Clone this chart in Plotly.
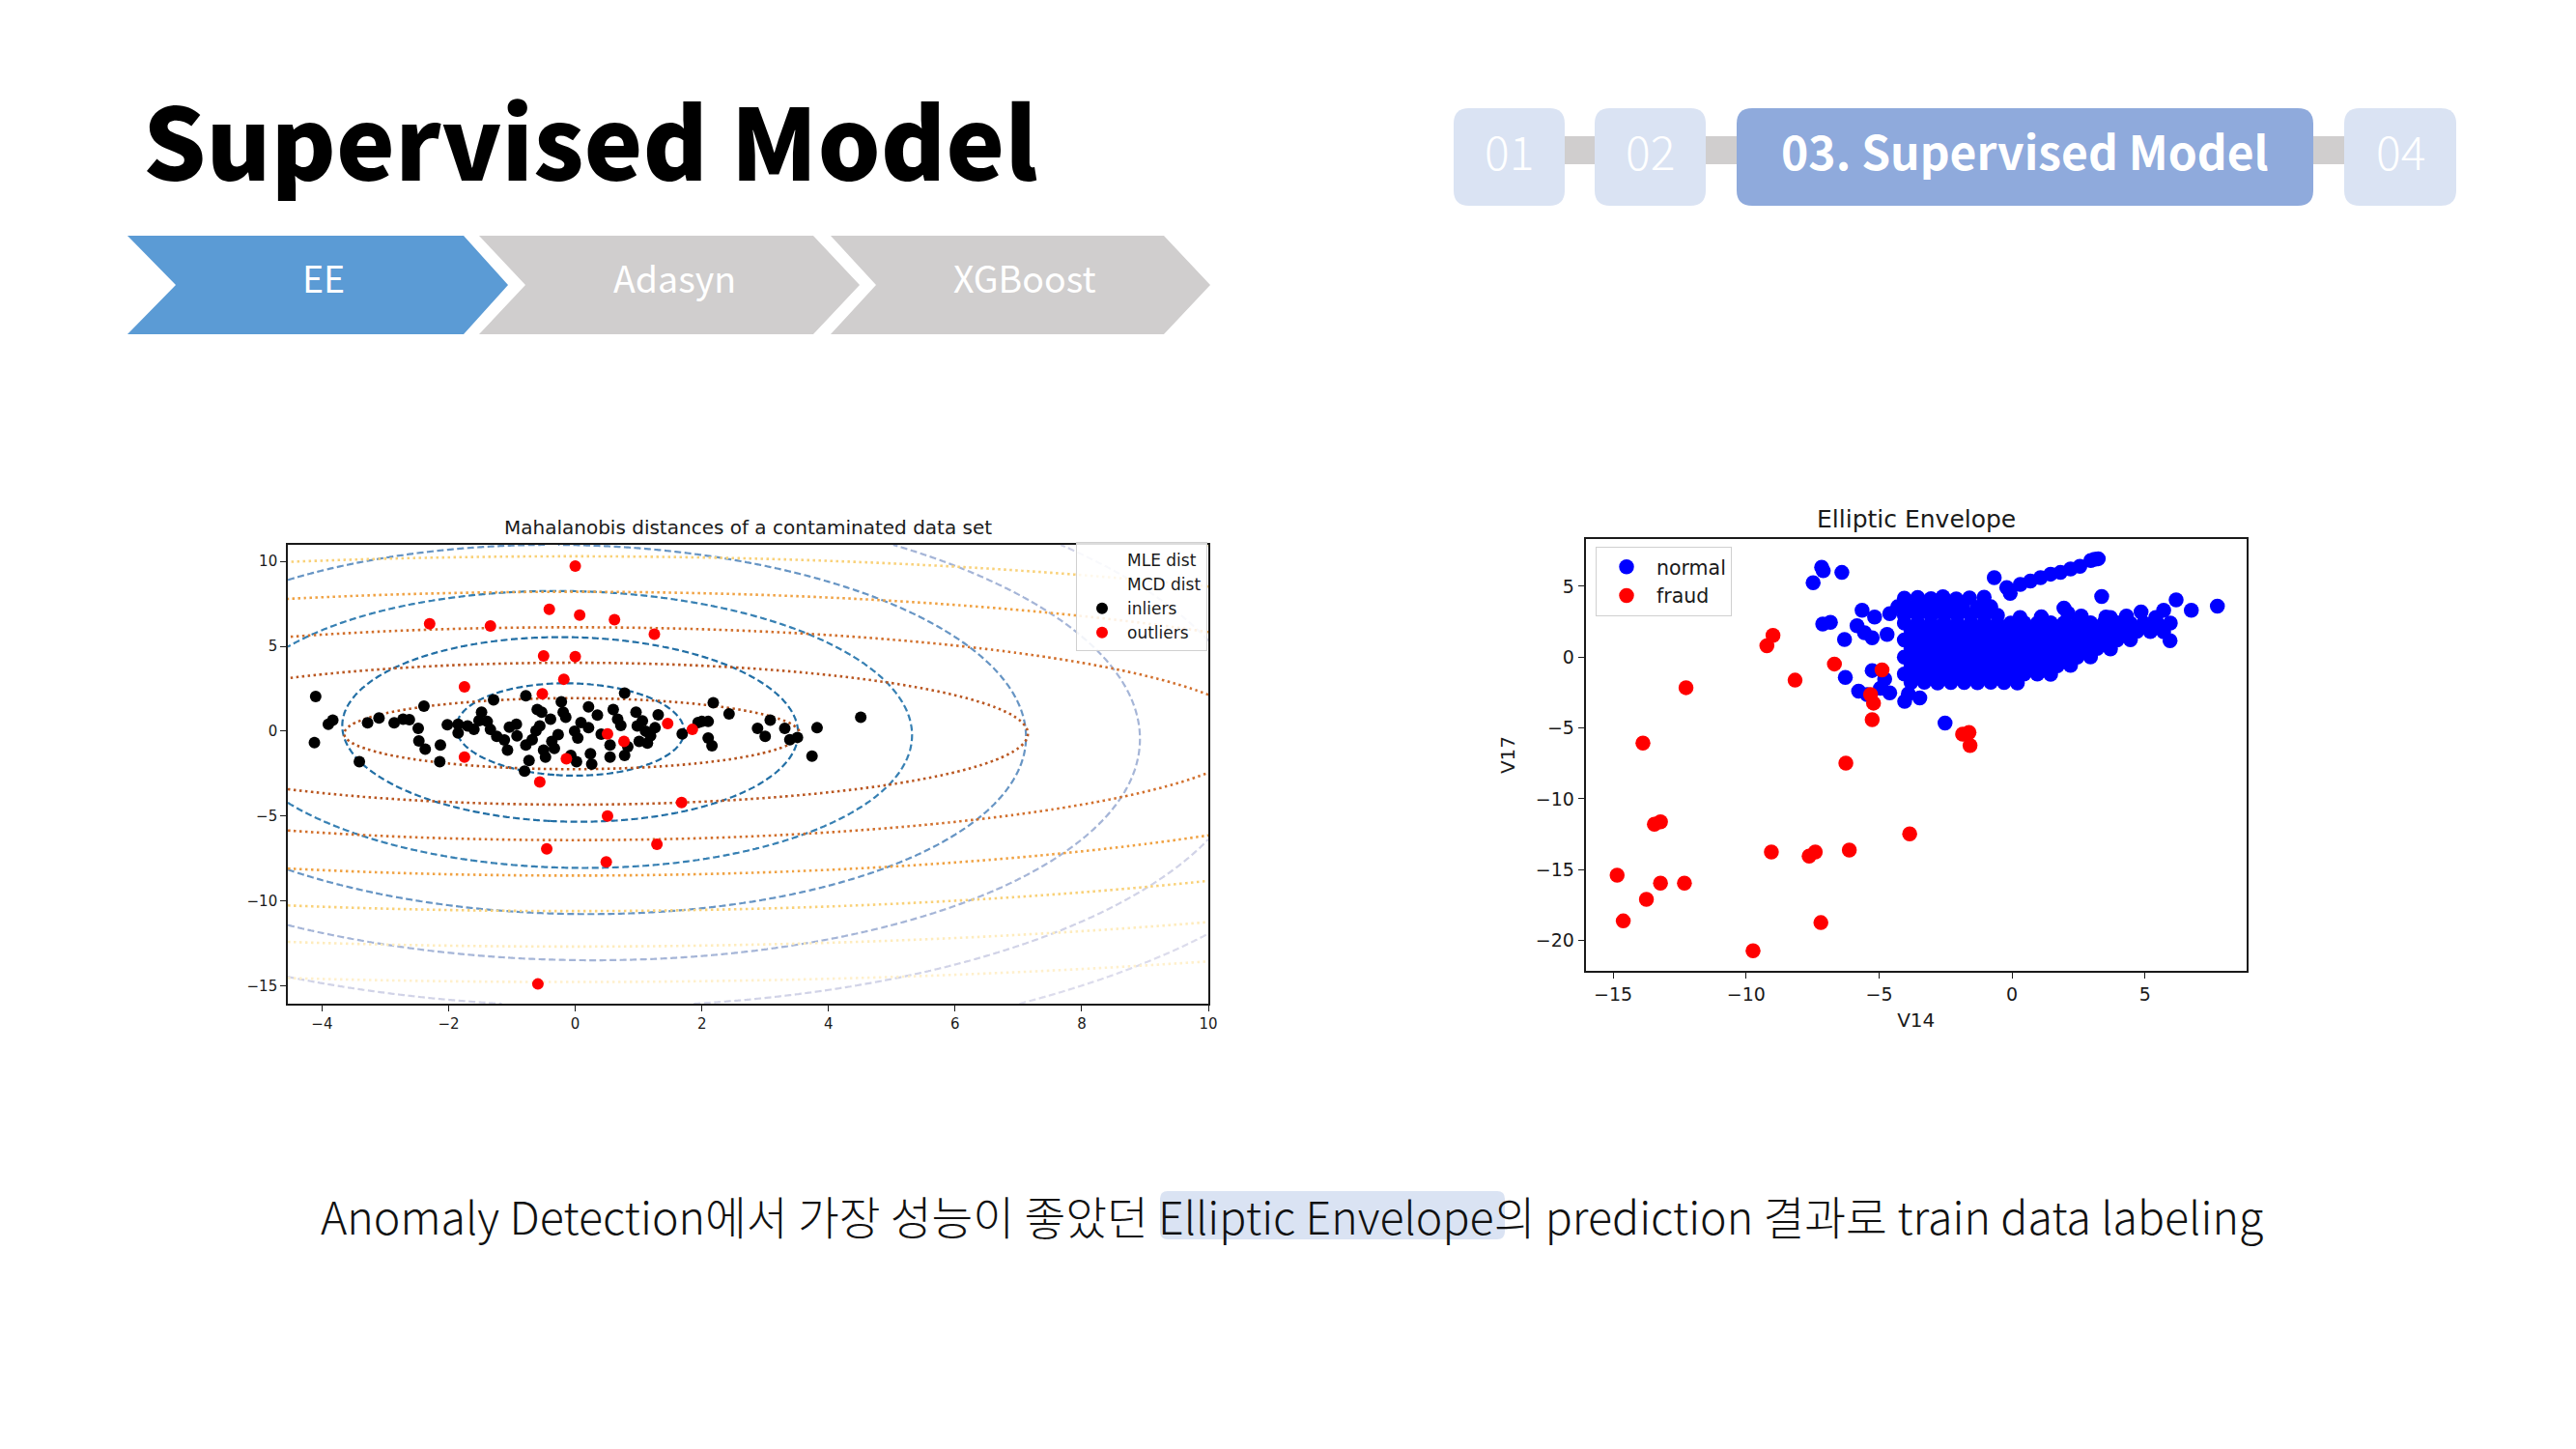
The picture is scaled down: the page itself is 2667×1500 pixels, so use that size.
import numpy as np
import plotly.graph_objects as go

W, H = 2667, 1500

# ---------------- Left chart: Mahalanobis distances ----------------
inlier_pts = [
    (-4.10, 2.04), (-4.12, -0.67), (-3.90, 0.41), (-3.83, 0.65), (-3.41, -1.80), (-3.28, 0.49),
    (-3.10, 0.78), (-2.86, 0.49), (-2.72, 0.71), (-2.62, 0.67), (-2.48, 0.16), (-2.47, -0.57),
    (-2.39, 1.47), (-2.37, -1.06), (-2.13, -0.82), (-2.14, -1.80), (-1.85, 0.41), (-1.85, -0.10),
    (-1.70, 0.31), (-1.60, 0.10), (-1.48, 1.12), (-1.39, 0.57), (-1.29, 1.84), (-1.34, 0.10),
    (-1.24, -0.31), (-1.07, -1.12), (-1.04, 0.24), (-0.93, 0.41), (-0.80, -2.35), (-0.78, 2.08),
    (-0.78, -0.82), (-0.73, -1.73), (-0.68, -0.51), (-0.60, 1.27), (-0.56, 0.31), (-0.53, 1.12),
    (-0.50, -1.12), (-0.47, -1.53), (-0.39, 0.71), (-0.37, -0.61), (-0.27, -0.20), (-0.22, 1.73),
    (-0.19, 1.12), (-0.15, 0.82), (-0.07, -1.43), (-0.01, 0.00), (0.02, -1.80), (0.04, -0.41),
    (0.09, 0.51), (0.21, 1.43), (0.21, 0.20), (0.24, -1.33), (0.26, -1.94), (0.55, -0.82),
    (0.55, -1.53), (0.60, 1.27), (0.67, 0.71), (0.78, 2.24), (0.78, -1.43), (0.83, -0.92),
    (0.96, 1.12), (0.98, 0.31), (1.01, -0.61), (1.06, 0.61), (1.11, 0.00), (1.14, -0.71),
    (1.26, 0.20), (1.31, 0.96), (1.69, -0.16), (1.94, 0.51), (2.00, 0.57), (2.10, 0.57),
    (2.18, 1.67), (2.10, -0.41), (2.16, -0.86), (2.43, 1.02), (2.88, 0.16), (3.00, -0.31),
    (3.08, 0.65), (3.31, 0.16), (3.39, -0.51), (3.51, -0.37), (3.74, -1.47), (3.82, 0.20),
    (4.51, 0.82), (-1.52, 0.62), (-0.92, -0.28), (-0.33, -1.02), (0.41, -0.18), (0.72, 0.33),
    (1.19, -0.28), (-1.12, -0.52), (-2.02, 0.38), (0.35, 0.95), (-0.62, 0.02),
]
outlier_pts = [
    (0.00, 9.73), (-0.41, 7.18), (0.07, 6.84), (0.62, 6.57), (-2.30, 6.33), (-1.34, 6.20),
    (1.25, 5.71), (-0.50, 4.43), (0.00, 4.39), (-0.18, 3.06), (-1.75, 2.61), (-0.52, 2.20),
    (1.46, 0.45), (1.85, 0.10), (0.51, -0.16), (0.77, -0.61), (-1.75, -1.53), (-0.14, -1.63),
    (-0.56, -3.00), (1.68, -4.20), (0.51, -5.00), (1.29, -6.67), (-0.45, -6.94), (0.49, -7.71),
    (-0.59, -14.90),
]
inlier_x = [p[0] for p in inlier_pts]
inlier_y = [p[1] for p in inlier_pts]
outlier_x = [p[0] for p in outlier_pts]
outlier_y = [p[1] for p in outlier_pts]

# covariance estimates (location, covariance) whose Mahalanobis distance is contoured
mle_location = [-0.08, 0.10]
mle_covariance = [[3.24, -0.20], [-0.20, 7.40]]
mcd_location = [-0.05, -0.15]
mcd_covariance = [[12.96, 0.0], [0.0, 4.37]]
contour_levels = [1, 2, 3, 4, 5, 6, 7]
mle_level_colors = ["#1e6aa0", "#2a78ae", "#3d84b5", "#6795c4", "#9aafd3", "#bcc1de", "#dcdcec"]
mcd_level_colors = ["#b5521c", "#c5602a", "#d9782e", "#f0a243", "#f8c864", "#fce3a0", "#fff0cc"]
left_xrange = [-4.54, 10.0]
left_yrange = [-16.06, 10.98]
left_xticks = [-4, -2, 0, 2, 4, 6, 8, 10]
left_yticks = [-15, -10, -5, 0, 5, 10]

# ---------------- Right chart: Elliptic Envelope ----------------
fraud_pts = [
    (-14.85, -15.39), (-14.62, -18.62), (-13.88, -6.07), (-13.75, -17.09), (-13.45, -11.80),
    (-13.22, -11.63), (-13.22, -15.95), (-12.26, -2.16), (-12.32, -15.95), (-9.74, -20.73),
    (-9.22, 0.80), (-8.99, 1.53), (-9.05, -13.76), (-8.16, -1.63), (-7.63, -14.05),
    (-7.40, -13.76), (-7.19, -18.74), (-6.68, -0.49), (-6.25, -7.48), (-6.12, -13.62),
    (-5.32, -2.65), (-5.21, -3.25), (-5.26, -4.42), (-4.89, -0.90), (-3.85, -12.48),
    (-1.86, -5.44), (-1.62, -5.32), (-1.58, -6.24),
]
normal_pts = [
    # scattered normals
    (-7.48, 5.24), (-7.16, 6.33), (-7.10, 6.09), (-6.40, 5.97), (-5.64, 3.30), (-7.12, 2.33),
    (-6.83, 2.45), (-6.30, 1.24), (-5.83, 2.21), (-5.55, 1.72), (-5.26, 1.36), (-5.17, 2.82),
    (-4.70, 1.60), (-4.60, 3.06), (-6.27, -1.43), (-5.77, -2.40), (-5.26, -0.95), (-4.79, -1.55),
    (-4.60, -2.52), (-2.52, -4.66), (5.94, 1.16), (6.17, 4.03), (6.74, 3.30), (7.72, 3.59),
    (5.42, 2.33), (4.85, 3.18), (3.53, 2.82), (-0.67, 5.60), (3.37, 4.27), (-5.45, -2.65),
    (-4.95, -2.20), (-4.04, -3.13), (-3.47, -2.89), (-3.90, -2.60),
    # upper streak
    (-0.07, 4.50), (-0.20, 4.90), (0.31, 5.12), (0.69, 5.36), (1.07, 5.60), (1.45, 5.85),
    (1.82, 5.97), (2.20, 6.21), (2.55, 6.40), (2.96, 6.82), (3.24, 6.94), (3.10, 6.90),
    (1.95, 3.45), (2.10, 3.10), (0.30, 2.80), (1.10, 2.85), (2.60, 2.90), (3.70, 2.80),
    (4.30, 2.90), (5.40, 2.80), (5.70, 3.30),
    # dense core, upper-left lobe
    (-4.05, 4.15), (-3.55, 4.20), (-3.05, 4.12), (-2.60, 4.25), (-2.10, 4.10), (-1.60, 4.18), (-1.05, 4.22),
    (-4.30, 3.55), (-3.85, 3.50), (-3.35, 3.58), (-2.85, 3.52), (-2.35, 3.60), (-1.85, 3.55), (-1.30, 3.50), (-0.80, 3.55),
    (-4.05, 2.95), (-3.55, 2.98), (-3.05, 2.92), (-2.55, 2.96), (-2.05, 2.94), (-1.55, 2.98), (-1.05, 2.93), (-0.55, 2.95),
    # dense core rows
    (-4.05, 2.40), (-3.55, 2.42), (-3.05, 2.38), (-2.55, 2.41), (-2.05, 2.39), (-1.55, 2.40), (-1.05, 2.42),
    (-0.55, 2.38), (-0.05, 2.40), (0.45, 2.41), (0.95, 2.39), (1.45, 2.42), (1.95, 2.40), (2.45, 2.38),
    (2.95, 2.41), (3.45, 2.40), (3.95, 2.42), (4.45, 2.39), (4.95, 2.40), (5.45, 2.41), (5.95, 2.40),
    (-3.80, 1.80), (-3.30, 1.82), (-2.80, 1.78), (-2.30, 1.81), (-1.80, 1.80), (-1.30, 1.79), (-0.80, 1.82),
    (-0.30, 1.80), (0.20, 1.78), (0.70, 1.81), (1.20, 1.80), (1.70, 1.82), (2.20, 1.79), (2.70, 1.80),
    (3.20, 1.81), (3.70, 1.78), (4.20, 1.80), (4.70, 1.82), (5.20, 1.80), (5.70, 1.79),
    (-4.05, 1.20), (-3.55, 1.22), (-3.05, 1.18), (-2.55, 1.21), (-2.05, 1.20), (-1.55, 1.19), (-1.05, 1.22),
    (-0.55, 1.20), (-0.05, 1.18), (0.45, 1.21), (0.95, 1.20), (1.45, 1.22), (1.95, 1.19), (2.45, 1.20),
    (2.95, 1.21), (3.45, 1.18), (3.95, 1.20), (4.45, 1.22),
    (-3.80, 0.60), (-3.30, 0.62), (-2.80, 0.58), (-2.30, 0.61), (-1.80, 0.60), (-1.30, 0.59), (-0.80, 0.62),
    (-0.30, 0.60), (0.20, 0.58), (0.70, 0.61), (1.20, 0.60), (1.70, 0.62), (2.20, 0.59), (2.70, 0.60),
    (3.20, 0.61), (3.70, 0.58),
    (-4.05, 0.00), (-3.55, 0.02), (-3.05, -0.02), (-2.55, 0.01), (-2.05, 0.00), (-1.55, -0.01), (-1.05, 0.02),
    (-0.55, 0.00), (-0.05, -0.02), (0.45, 0.01), (0.95, 0.00), (1.45, 0.02), (1.95, -0.01), (2.45, 0.00),
    (2.95, 0.01),
    (-3.80, -0.60), (-3.30, -0.58), (-2.80, -0.62), (-2.30, -0.59), (-1.80, -0.60), (-1.30, -0.61),
    (-0.80, -0.58), (-0.30, -0.60), (0.20, -0.62), (0.70, -0.59), (1.20, -0.60), (1.70, -0.61), (2.20, -0.58),
    (-4.05, -1.20), (-3.55, -1.18), (-3.05, -1.22), (-2.55, -1.19), (-2.05, -1.20), (-1.55, -1.21),
    (-1.05, -1.18), (-0.55, -1.20), (-0.05, -1.22), (0.45, -1.19), (0.95, -1.20), (1.45, -1.21),
    (-3.80, -1.80), (-3.30, -1.78), (-2.80, -1.82), (-2.30, -1.79), (-1.80, -1.80), (-1.30, -1.81),
    (-0.80, -1.78), (-0.30, -1.80), (0.20, -1.82),
]
fraud_v14 = [p[0] for p in fraud_pts]
fraud_v17 = [p[1] for p in fraud_pts]
normal_v14 = [p[0] for p in normal_pts]
normal_v17 = [p[1] for p in normal_pts]
right_xrange = [-16.04, 8.82]
right_yrange = [-22.14, 8.33]
right_xticks = [-15, -10, -5, 0, 5]
right_yticks = [-20, -15, -10, -5, 0, 5]

# ---------------- Slide text ----------------
slide_title = "Supervised Model"
step_labels = ["EE", "Adasyn", "XGBoost"]
nav_labels = ["01", "02", "03. Supervised Model", "04"]
caption = "Anomaly Detection에서 가장 성능이 좋았던 Elliptic Envelope의 prediction 결과로 train data labeling"

KR = "Noto Sans CJK KR"
KR_BLACK = "Noto Sans CJK KR Black, Noto Sans CJK KR"
MPL = "DejaVu Sans"


def px(x):
    return x / W


def py(y):
    return 1 - y / H


def mahalanobis_grid(loc, cov, gx, gy):
    inv = np.linalg.inv(np.array(cov))
    XX, YY = np.meshgrid(gx, gy)
    dx = XX - loc[0]
    dy = YY - loc[1]
    d2 = inv[0, 0] * dx * dx + 2 * inv[0, 1] * dx * dy + inv[1, 1] * dy * dy
    return np.sqrt(d2)


def level_scale(colors):
    n = len(colors) + 1
    scale = [[0.0, colors[0]]]
    for i, c in enumerate(colors):
        scale.append([(i + 1) / n, c])
    scale.append([1.0, colors[-1]])
    return scale


gx = np.linspace(left_xrange[0], left_xrange[1], 320)
gy = np.linspace(left_yrange[0], left_yrange[1], 320)

fig = go.Figure()

for loc, cov, cols, dash, lw in [
    (mle_location, mle_covariance, mle_level_colors, "7px,3.5px", 2.2),
    (mcd_location, mcd_covariance, mcd_level_colors, "2.5px,3.5px", 2.6),
]:
    fig.add_trace(go.Contour(
        x=gx, y=gy, z=mahalanobis_grid(loc, cov, gx, gy),
        autocontour=False,
        contours=dict(start=contour_levels[0], end=contour_levels[-1], size=1,
                      coloring="lines", showlabels=False),
        zmin=0, zmax=len(contour_levels) + 1,
        colorscale=level_scale(cols), showscale=False,
        line=dict(width=lw, dash=dash), hoverinfo="skip", showlegend=False,
        xaxis="x", yaxis="y",
    ))

fig.add_trace(go.Scatter(x=[None], y=[None], mode="lines", name="MLE dist",
                         line=dict(color="rgba(0,0,0,0)"), legend="legend"))
fig.add_trace(go.Scatter(x=[None], y=[None], mode="lines", name="MCD dist",
                         line=dict(color="rgba(0,0,0,0)"), legend="legend"))
fig.add_trace(go.Scatter(x=inlier_x, y=inlier_y, mode="markers", name="inliers",
                         marker=dict(color="black", size=12), legend="legend",
                         xaxis="x", yaxis="y"))
fig.add_trace(go.Scatter(x=outlier_x, y=outlier_y, mode="markers", name="outliers",
                         marker=dict(color="#ff0000", size=12), legend="legend",
                         xaxis="x", yaxis="y"))

fig.add_trace(go.Scatter(x=normal_v14, y=normal_v17, mode="markers", name="normal",
                         marker=dict(color="#0000ff", size=15.5), legend="legend2",
                         xaxis="x2", yaxis="y2"))
fig.add_trace(go.Scatter(x=fraud_v14, y=fraud_v17, mode="markers", name="fraud",
                         marker=dict(color="#ff0000", size=15.5), legend="legend2",
                         xaxis="x2", yaxis="y2"))

axis_common = dict(showgrid=False, zeroline=False, showline=True, mirror=True,
                   linecolor="#1a1a1a", linewidth=1.6, ticks="outside", ticklen=6,
                   tickwidth=1.4, tickcolor="#1a1a1a")

shapes = []


def poly_path(points):
    return "M " + " L ".join(f"{px(x):.5f},{py(y):.5f}" for x, y in points) + " Z"


def rounded_rect(x0, y0, x1, y1, r):
    rx, ry = r, r
    pts = [
        f"M {px(x0 + rx):.5f},{py(y0):.5f}",
        f"L {px(x1 - rx):.5f},{py(y0):.5f}",
        f"Q {px(x1):.5f},{py(y0):.5f} {px(x1):.5f},{py(y0 + ry):.5f}",
        f"L {px(x1):.5f},{py(y1 - ry):.5f}",
        f"Q {px(x1):.5f},{py(y1):.5f} {px(x1 - rx):.5f},{py(y1):.5f}",
        f"L {px(x0 + rx):.5f},{py(y1):.5f}",
        f"Q {px(x0):.5f},{py(y1):.5f} {px(x0):.5f},{py(y1 - ry):.5f}",
        f"L {px(x0):.5f},{py(y0 + ry):.5f}",
        f"Q {px(x0):.5f},{py(y0):.5f} {px(x0 + rx):.5f},{py(y0):.5f}",
        "Z",
    ]
    return " ".join(pts)


# chevrons
chev = [(132, 182, 480, 526, "#5b9bd5"), (496, 544, 842, 890, "#d0cece"), (860, 907, 1205, 1253, "#d0cece")]
ytop, ybot, ymid = 244, 346, 295
for x0, notch, xr, tip, col in chev:
    shapes.append(dict(type="path", xref="paper", yref="paper", line=dict(width=0), fillcolor=col,
                       path=poly_path([(x0, ytop), (xr, ytop), (tip, ymid), (xr, ybot), (x0, ybot), (notch, ymid)])))

# nav connectors and boxes
shapes.append(dict(type="rect", xref="paper", yref="paper", x0=px(1600), x1=px(2440), y0=py(170), y1=py(141),
                   line=dict(width=0), fillcolor="#d0cece"))
nav_boxes = [(1505, 1620, "#dae3f3"), (1651, 1766, "#dae3f3"), (1798, 2395, "#8faadc"), (2427, 2543, "#dae3f3")]
for x0, x1, col in nav_boxes:
    shapes.append(dict(type="path", xref="paper", yref="paper", line=dict(width=0), fillcolor=col,
                       path=rounded_rect(x0, 112, x1, 213, 16)))

# caption highlight
shapes.append(dict(type="path", xref="paper", yref="paper", line=dict(width=0), fillcolor="#dae3f3",
                   path=rounded_rect(1201, 1233, 1558, 1283, 8), layer="below"))

annotations = []
annotations.append(dict(text=slide_title, x=px(146), y=py(142), xref="paper", yref="paper",
                        xanchor="left", yanchor="middle", showarrow=False,
                        font=dict(family=KR_BLACK, size=102.5, color="#000000", weight=900)))
for (x0, notch, xr, tip, col), lab in zip(chev, step_labels):
    annotations.append(dict(text=lab, x=px((notch + tip) / 2 - 19), y=py(286), xref="paper", yref="paper",
                            xanchor="center", yanchor="middle", showarrow=False,
                            font=dict(family=KR, size=37.5, color="#ffffff")))
for (x0, x1, col), lab in zip(nav_boxes, nav_labels):
    bold = lab.startswith("03")
    annotations.append(dict(text=lab, x=px((x0 + x1) / 2), y=py(155), xref="paper", yref="paper",
                            xanchor="center", yanchor="middle", showarrow=False,
                            font=dict(family=KR, size=48, color="#ffffff",
                                      weight=700 if bold else 300)))
annotations.append(dict(text=caption, x=px(1338), y=py(1257), xref="paper", yref="paper",
                        xanchor="center", yanchor="middle", showarrow=False,
                        font=dict(family=KR, size=46.5, color="#111111", weight=300)))
annotations.append(dict(text="Mahalanobis distances of a contaminated data set", x=px(774.5), y=py(546),
                        xref="paper", yref="paper", xanchor="center", yanchor="middle", showarrow=False,
                        font=dict(family=MPL, size=20, color="#1a1a1a")))
annotations.append(dict(text="Elliptic Envelope", x=px(1984), y=py(537),
                        xref="paper", yref="paper", xanchor="center", yanchor="middle", showarrow=False,
                        font=dict(family=MPL, size=25, color="#1a1a1a")))

fig.update_layout(
    width=W, height=H,
    margin=dict(l=0, r=0, t=0, b=0, autoexpand=False),
    paper_bgcolor="white", plot_bgcolor="white",
    font=dict(family=MPL, color="#1a1a1a"),
    xaxis=dict(domain=[px(298), px(1251)], range=left_xrange, tickvals=left_xticks, anchor="y",
               tickfont=dict(size=15), **axis_common),
    yaxis=dict(domain=[py(1039), py(564)], range=left_yrange, tickvals=left_yticks, anchor="x",
               tickfont=dict(size=15), **axis_common),
    xaxis2=dict(domain=[px(1641.5), px(2326)], range=right_xrange, tickvals=right_xticks, anchor="y2",
                tickfont=dict(size=19), title=dict(text="V14", font=dict(size=20), standoff=10),
                **axis_common),
    yaxis2=dict(domain=[py(1005), py(558)], range=right_yrange, tickvals=right_yticks, anchor="x2",
                tickfont=dict(size=19), title=dict(text="V17", font=dict(size=20), standoff=16),
                **axis_common),
    legend=dict(x=px(1114), y=py(561), xanchor="left", yanchor="top", bgcolor="rgba(255,255,255,0.85)",
                bordercolor="#d0d0d0", borderwidth=1, font=dict(family=MPL, size=17, color="#1a1a1a"),
                itemwidth=42, tracegroupgap=0),
    legend2=dict(x=px(1652), y=py(566), xanchor="left", yanchor="top", bgcolor="rgba(255,255,255,0.85)",
                 bordercolor="#d0d0d0", borderwidth=1, font=dict(family=MPL, size=20.5, color="#1a1a1a"),
                 itemwidth=52, tracegroupgap=0),
    shapes=shapes, annotations=annotations, showlegend=True,
)

fig.write_html("out.html")
